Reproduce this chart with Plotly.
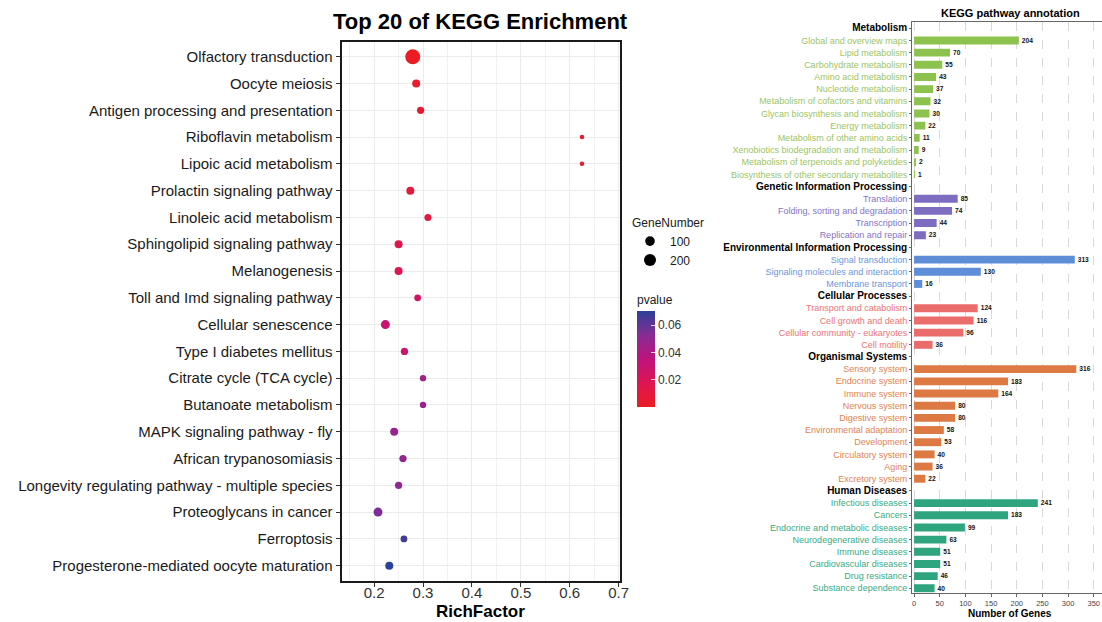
import math
import plotly.graph_objects as go

# ---------------- Left panel data: Top 20 KEGG enrichment ----------------
terms = ["Olfactory transduction", "Oocyte meiosis", "Antigen processing and presentation",
         "Riboflavin metabolism", "Lipoic acid metabolism", "Prolactin signaling pathway",
         "Linoleic acid metabolism", "Sphingolipid signaling pathway", "Melanogenesis",
         "Toll and Imd signaling pathway", "Cellular senescence", "Type I diabetes mellitus",
         "Citrate cycle (TCA cycle)", "Butanoate metabolism", "MAPK signaling pathway - fly",
         "African trypanosomiasis", "Longevity regulating pathway - multiple species",
         "Proteoglycans in cancer", "Ferroptosis", "Progesterone-mediated oocyte maturation"]
rich_factor = [0.279, 0.286, 0.295, 0.625, 0.625, 0.274, 0.310, 0.250, 0.250, 0.289,
               0.223, 0.262, 0.300, 0.300, 0.241, 0.259, 0.250, 0.208, 0.261, 0.231]
gene_number = [380, 51, 36, 10, 10, 51, 31, 51, 51, 27, 78, 36, 21, 21, 51, 36, 36, 78, 27, 51]
pvalues = [0.0001, 0.003, 0.005, 0.006, 0.006, 0.008, 0.011, 0.015, 0.016, 0.025,
           0.030, 0.028, 0.045, 0.046, 0.047, 0.050, 0.051, 0.055, 0.066, 0.0704]
size_breaks = [100, 200]
richfactor_ticks = [0.2, 0.3, 0.4, 0.5, 0.6, 0.7]
richfactor_minor = [0.15, 0.25, 0.35, 0.45, 0.55, 0.65]
pvalue_ticks = [0.02, 0.04, 0.06]

# ---------------- Right panel data: KEGG pathway annotation ----------------
group_names = ["Metabolism", "Genetic Information Processing", "Environmental Information Processing",
               "Cellular Processes", "Organismal Systems", "Human Diseases"]
metabolism_terms = ["Global and overview maps", "Lipid metabolism", "Carbohydrate metabolism",
                    "Amino acid metabolism", "Nucleotide metabolism", "Metabolism of cofactors and vitamins",
                    "Glycan biosynthesis and metabolism", "Energy metabolism", "Metabolism of other amino acids",
                    "Xenobiotics biodegradation and metabolism", "Metabolism of terpenoids and polyketides",
                    "Biosynthesis of other secondary metabolites"]
metabolism_counts = [204, 70, 55, 43, 37, 32, 30, 22, 11, 9, 2, 1]
genetic_terms = ["Translation", "Folding, sorting and degradation", "Transcription", "Replication and repair"]
genetic_counts = [85, 74, 44, 23]
environmental_terms = ["Signal transduction", "Signaling molecules and interaction", "Membrane transport"]
environmental_counts = [313, 130, 16]
cellular_terms = ["Transport and catabolism", "Cell growth and death", "Cellular community - eukaryotes", "Cell motility"]
cellular_counts = [124, 116, 96, 36]
organismal_terms = ["Sensory system", "Endocrine system", "Immune system", "Nervous system", "Digestive system",
                    "Environmental adaptation", "Development", "Circulatory system", "Aging", "Excretory system"]
organismal_counts = [316, 183, 164, 80, 80, 58, 53, 40, 36, 22]
disease_terms = ["Infectious diseases", "Cancers", "Endocrine and metabolic diseases", "Neurodegenerative diseases",
                 "Immune diseases", "Cardiovascular diseases", "Drug resistance", "Substance dependence"]
disease_counts = [241, 183, 99, 63, 51, 51, 46, 40]
gene_ticks = [0, 50, 100, 150, 200, 250, 300, 350]

group_terms = [metabolism_terms, genetic_terms, environmental_terms, cellular_terms, organismal_terms, disease_terms]
group_counts = [metabolism_counts, genetic_counts, environmental_counts, cellular_counts, organismal_counts, disease_counts]
bar_colors = ["#8DC24F", "#7E6CC1", "#5F8ED8", "#EA6D6C", "#DD7A43", "#2EA57E"]
label_colors = ["#9CC564", "#8474C4", "#6C96DA", "#EC7474", "#E08450", "#3AAA85"]

W, H = 1102, 622
FONT = "Liberation Sans, Arial, sans-serif"

def px_x(p):
    return p / W

def px_y(p):
    return 1 - p / H

gmin, gmax = min(gene_number), max(gene_number)

def gene_size(g):
    return 4.5 + 10.5 * math.sqrt(max(g - gmin, 0) / (gmax - gmin))

colorscale = [[0.0, "#EC1C24"], [0.25, "#DD1553"], [0.5, "#BE137D"], [0.75, "#872C93"], [1.0, "#2C4099"]]

fig = go.Figure()

# dot plot
fig.add_trace(go.Scatter(
    x=rich_factor, y=terms, mode="markers", xaxis="x", yaxis="y", showlegend=False,
    marker=dict(size=[gene_size(g) for g in gene_number], color=pvalues, colorscale=colorscale,
                cmin=0.0001, cmax=0.0704, line=dict(width=0), opacity=1,
                colorbar=dict(title=dict(text="pvalue", side="top", font=dict(size=12, color="#1A1A1A")),
                              thickness=18, len=115, lenmode="pixels",
                              x=px_x(637), xanchor="left", y=px_y(407), yanchor="bottom",
                              xpad=0, ypad=0, outlinewidth=0,
                              tickvals=pvalue_ticks, ticktext=[f"{v:.2f}" for v in pvalue_ticks],
                              ticks="inside", ticklen=4, tickcolor="rgba(255,255,255,0.8)",
                              tickfont=dict(size=12, color="#333333"))),
    cliponaxis=False,
))

# size legend
for b in size_breaks:
    fig.add_trace(go.Scatter(x=[None], y=[None], mode="markers", xaxis="x", yaxis="y",
                             name=str(b), showlegend=True,
                             marker=dict(size=gene_size(b), color="black", line=dict(width=0))))

# bar chart
rows = []
row_labels = []
for gi, gname in enumerate(group_names):
    rows.append(gname)
    row_labels.append(f"<b><span style='font-size:10px;color:#000000'>{gname}</span></b>")
    for t in group_terms[gi]:
        rows.append(t)
        row_labels.append(f"<span style='color:{label_colors[gi]}'>{t}</span>")
    fig.add_trace(go.Bar(
        x=group_counts[gi], y=group_terms[gi], orientation="h", xaxis="x2", yaxis="y2",
        marker=dict(color=bar_colors[gi], line=dict(width=0)), width=0.65, showlegend=False,
        text=[str(v) for v in group_counts[gi]], texttemplate="<b>%{text}</b>",
        textposition="outside", textfont=dict(size=7.5, color="#111111", family=FONT),
        cliponaxis=False,
    ))

nrows = len(rows)

fig.update_layout(
    width=W, height=H, autosize=False,
    margin=dict(l=0, r=0, t=0, b=0),
    paper_bgcolor="white", plot_bgcolor="white",
    font=dict(family=FONT, color="#1A1A1A"),
    xaxis=dict(domain=[px_x(341.5), px_x(620)], range=[0.1333, 0.7027],
               tickvals=richfactor_ticks, ticktext=[f"{v:.1f}" for v in richfactor_ticks],
               tickfont=dict(size=15, color="#333333"), ticks="outside", ticklen=4, tickcolor="#333333",
               ticklabelstandoff=-7,
               showgrid=True, gridcolor="#EBEBEB", gridwidth=1,
               minor=dict(tickvals=richfactor_minor, showgrid=True, ticks="",
                          gridcolor="#F2F2F2", gridwidth=0.7),
               showline=True, mirror=True, linecolor="#1A1A1A", linewidth=2,
               zeroline=False, automargin=False, anchor="y"),
    yaxis=dict(domain=[px_y(580.7), px_y(41.7)], type="category", categoryorder="array",
               categoryarray=terms, range=[19.56, -0.56],
               tickfont=dict(size=15, color="#1A1A1A"), ticks="outside", ticklen=4, tickcolor="#333333",
               showgrid=True, gridcolor="#EBEBEB", gridwidth=1,
               showline=True, mirror=True, linecolor="#1A1A1A", linewidth=2,
               zeroline=False, automargin=False, anchor="x"),
    xaxis2=dict(domain=[px_x(912), 1.0], range=[-4, 366], tickvals=gene_ticks,
                tickfont=dict(size=7.5, color="#444444"), ticks="outside", ticklen=3, tickcolor="#666666",
                showgrid=True, gridcolor="#D9D9D9", griddash="dash", gridwidth=0.8,
                showline=True, mirror=True, linecolor="#666666", linewidth=1,
                zeroline=False, automargin=False, anchor="y2"),
    yaxis2=dict(domain=[px_y(592.7), px_y(22.3)], type="category", categoryorder="array",
                categoryarray=rows, range=[nrows - 1 + 0.36, -0.49],
                tickmode="array", tickvals=rows, ticktext=row_labels,
                tickfont=dict(size=9), ticks="outside", ticklen=2, tickcolor="#666666",
                showgrid=False, showline=True, linecolor="#666666", linewidth=1,
                zeroline=False, automargin=False, anchor="x2"),
    legend=dict(title=dict(text="GeneNumber", font=dict(size=12, color="#1A1A1A")),
                x=px_x(630), y=px_y(211), xanchor="left", yanchor="top",
                font=dict(size=12, color="#1A1A1A"), bgcolor="rgba(0,0,0,0)",
                itemsizing="trace", tracegroupgap=0),
    annotations=[
        dict(text="<b>Top 20 of KEGG Enrichment</b>", x=px_x(480), y=px_y(22), xref="paper", yref="paper",
             xanchor="center", yanchor="middle", showarrow=False, font=dict(size=22, color="#000000")),
        dict(text="<b>RichFactor</b>", x=px_x(480.5), y=px_y(611), xref="paper", yref="paper",
             xanchor="center", yanchor="middle", showarrow=False, font=dict(size=17, color="#000000")),
        dict(text="<b>KEGG pathway annotation</b>", x=px_x(1010), y=px_y(13), xref="paper", yref="paper",
             xanchor="center", yanchor="middle", showarrow=False, font=dict(size=11, color="#000000")),
        dict(text="<b>Number of Genes</b>", x=px_x(1010), y=px_y(613), xref="paper", yref="paper",
             xanchor="center", yanchor="middle", showarrow=False, font=dict(size=10, color="#000000")),
    ],
)

fig.write_html("out.html")
